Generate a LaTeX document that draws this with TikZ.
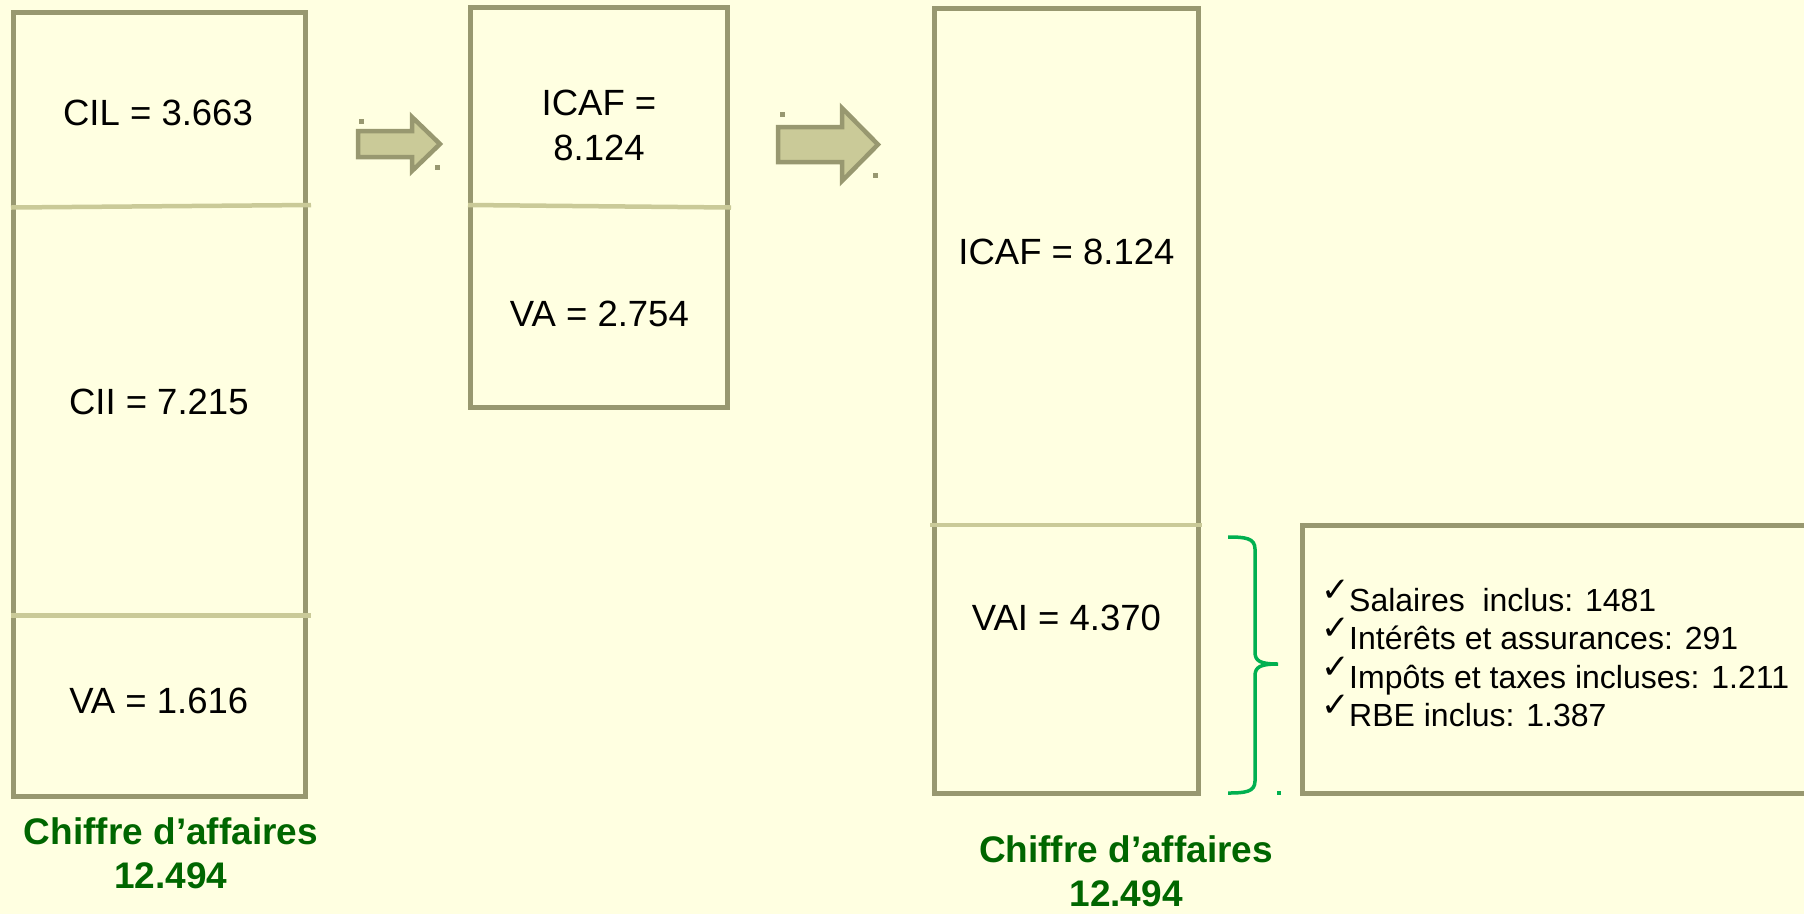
\documentclass[tikz,border=0pt]{standalone}
\usepackage{fontspec}
\setmainfont{Liberation Sans}
\newfontfamily\symfont{DejaVu Sans}
\definecolor{bgc}{RGB}{255,255,225}
\definecolor{boxc}{RGB}{152,152,112}
\definecolor{divc}{RGB}{202,202,152}
\definecolor{txtgreen}{RGB}{0,102,0}
\definecolor{bracec}{RGB}{0,176,80}
\newcommand{\chkm}{\makebox[28pt][l]{\raisebox{10pt}{\symfont\fontsize{34}{38}\selectfont ✓}}}
\begin{document}
\begin{tikzpicture}[x=1pt,y=-1pt,
  boxline/.style={draw=boxc,line width=5pt},
  divline/.style={draw=divc,line width=4.5pt},
  lbl/.style={inner sep=0pt,font=\fontsize{36.5}{44}\selectfont},
  calbl/.style={inner sep=0pt,text=txtgreen,font=\fontsize{37}{44}\selectfont\bfseries},
  chk/.style={inner sep=0pt,anchor=base west,font=\fontsize{32}{38}\selectfont},
  arr/.style={draw=boxc,fill=divc,line width=4.5pt,line join=miter},
  dotc/.style={fill=boxc}
]
\useasboundingbox (0,0) rectangle (1804,914);
\fill[bgc] (0,0) rectangle (1804,914);
\clip (0,0) rectangle (1804,914);

% Box 1
\draw[boxline] (13,12) rectangle (305,796.5);
\draw[divline] (11,207.5) -- (311,205);
\draw[divline] (11,615.5) -- (311,615.5);
\node[lbl] (cil) at (158,113) {CIL = 3.663};
\node[lbl] (cii) at (158.8,401.5) {CII = 7.215};
\node[lbl] (va1) at (158.8,700.7) {VA = 1.616};
\node[calbl] (ca1a) at (171,831) {Chiffre d’affaires};
\node[calbl] (ca1b) at (171,875.5) {12.494};

% Arrow 1
\draw[arr] (358,131) -- (412,131) -- (412,117) -- (440,144) -- (412,171) -- (412,157) -- (358,157) -- cycle;
\fill[dotc] (358.5,118.5) rectangle (363.5,123.5);
\fill[dotc] (434.5,164.5) rectangle (439.5,169.5);

% Box 2
\draw[boxline] (470.5,7.5) rectangle (727.5,407.5);
\draw[divline] (468,205) -- (731,207.5);
\node[lbl] (icaf1a) at (599,103) {ICAF =};
\node[lbl] (icaf1b) at (599,148) {8.124};
\node[lbl] (va2) at (599.4,314) {VA = 2.754};

% Arrow 2
\draw[arr] (778,127) -- (842,127) -- (842,108) -- (878,144.5) -- (842,181) -- (842,162) -- (778,162) -- cycle;
\fill[dotc] (779.5,111.5) rectangle (784.5,116.5);
\fill[dotc] (872.5,172.5) rectangle (877.5,177.5);

% Box 3
\draw[boxline] (934,8) rectangle (1198,793.5);
\draw[divline] (930,525) -- (1202,525);
\node[lbl] (icaf2) at (1066.5,252) {ICAF = 8.124};
\node[lbl] (vai) at (1066.5,617.8) {VAI = 4.370};
\node[calbl] (ca2a) at (1126,849) {Chiffre d’affaires};
\node[calbl] (ca2b) at (1126,894) {12.494};

% Brace
\draw[bracec,line width=3.5pt]
  (1228,537) .. controls (1245,537) and (1255,538) .. (1255,549)
  -- (1255,652) .. controls (1255,661) and (1260,664) .. (1278,664)
  .. controls (1260,664) and (1255,667) .. (1255,676)
  -- (1255,781) .. controls (1255,792) and (1245,793) .. (1228,793);
\fill[bracec] (1277,791) rectangle (1281,795);

% Checklist box
\draw[boxline] (1302.5,525.5) rectangle (1830,793.5);
\node[chk] (t1) at (1321,611.5) {\chkm Salaires\ \ inclus: 1481};
\node[chk] (t2) at (1321,649.8) {\chkm Intérêts et assurances: 291};
\node[chk] (t3) at (1321,688.1) {\chkm Impôts et taxes incluses: 1.211};
\node[chk] (t4) at (1321,726.4) {\chkm RBE inclus: 1.387};
\end{tikzpicture}
\end{document}
